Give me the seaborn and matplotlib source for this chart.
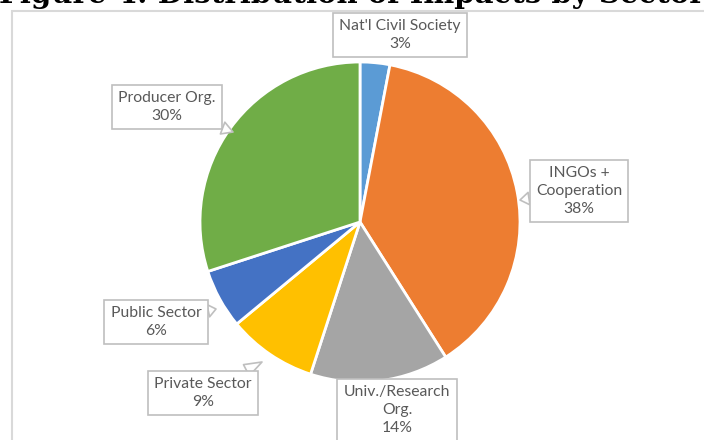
import matplotlib
matplotlib.use("Agg")
import matplotlib.pyplot as plt
import seaborn as sns
from matplotlib.patches import Rectangle

sns.set_theme(style="white")
plt.rcParams['font.family'] = ['Lato', 'DejaVu Sans']

title = "Figure 4: Distribution of Impacts by Sector"
categories = ["Nat'l Civil Society", "INGOs +\nCooperation", "Univ./Research\nOrg.",
              "Private Sector", "Public Sector", "Producer Org."]
values = [3, 38, 14, 9, 6, 30]
colors = ["#5B9BD5", "#ED7D31", "#A5A5A5", "#FFC000", "#4472C4", "#70AD47"]

W, H = 704, 440
fig = plt.figure(figsize=(7.04, 4.40), dpi=100)
ax = fig.add_axes([0, 0, 1, 1])
ax.set_xlim(0, W)
ax.set_ylim(0, H)
ax.set_aspect('equal')
ax.axis('off')

def P(x, y):
    return (x, H - y)

# chart frame
ax.add_patch(Rectangle(P(12, 460), 720, 449, fill=False, ec="#D9D9D9", lw=1.5, zorder=0))

cx, cy = P(360, 222)
ax.pie(values, colors=colors, startangle=90, counterclock=False, center=(cx, cy), radius=160,
       wedgeprops=dict(edgecolor="white", linewidth=2), frame=True)
ax.set_xlim(0, W)
ax.set_ylim(0, H)
ax.axis('off')

# label boxes: text centre (pixels) and pointer tip (pixels) or None
label_pos = [(400, 35), (579, 191), (397, 410), (203, 393), (156, 322), (167, 107)]
tips = [None, (520, 200), None, (262, 362), (216, 309), (233, 132)]

for cat, v, pos, tip in zip(categories, values, label_pos, tips):
    txt = f"{cat}\n{v}%"
    bbox = dict(boxstyle="square,pad=0.4", fc="white", ec="#BFBFBF", lw=1.2)
    if tip is None:
        ax.text(*P(*pos), txt, ha="center", va="center", fontsize=11.3, color="#595959",
                linespacing=1.35, bbox=bbox, zorder=5)
    else:
        ax.annotate(txt, xy=P(*tip), xytext=P(*pos), ha="center", va="center",
                    fontsize=11.3, color="#595959", linespacing=1.35, bbox=bbox, zorder=5,
                    arrowprops=dict(arrowstyle="wedge,tail_width=0.8,shrink_factor=0.5",
                                    fc="white", ec="#BFBFBF", lw=1.2, shrinkA=0, shrinkB=0))

ax.text(-1, H - 3, title, ha="left", va="baseline", fontsize=21, fontweight="bold",
        family=["DejaVu Serif"], color="black")

fig.savefig("out.png", dpi=100)
